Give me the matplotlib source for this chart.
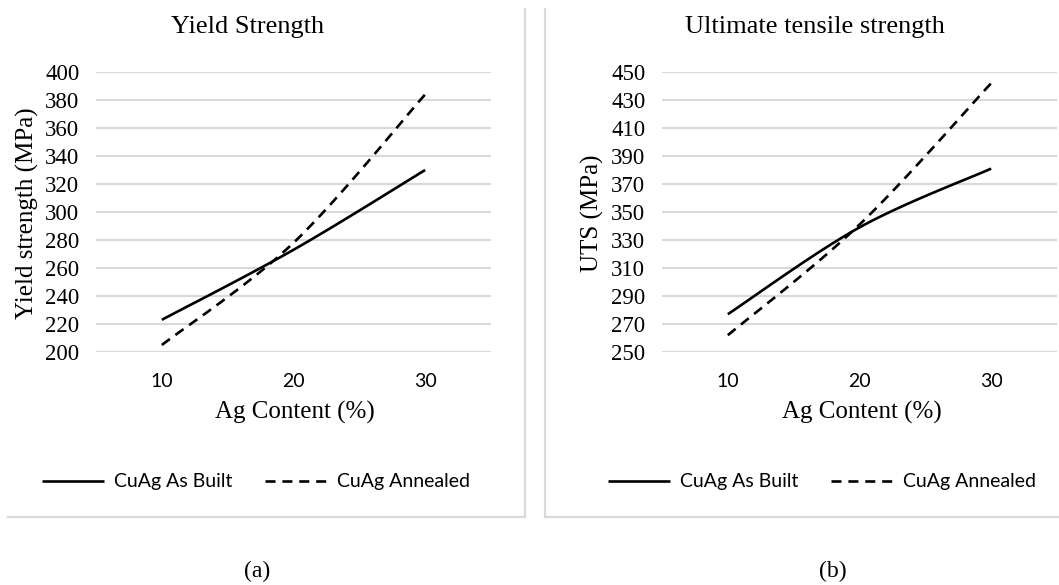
import numpy as np
import matplotlib
matplotlib.use("Agg")
import matplotlib.pyplot as plt
from matplotlib.lines import Line2D

# Ag content categories and measured strengths (MPa)
ag_content = ["10", "20", "30"]
ys_as_built = [223, 273, 330]
ys_annealed = [205, 278, 384]
uts_as_built = [277, 339, 381]
uts_annealed = [262, 341, 442]

W, H = 1059, 585
SERIF = "Liberation Serif"
SANS = "Lato"
GRID = "#d9d9d9"


def smooth(y, n=60):
    # spreadsheet-style smoothed line: cubic Bezier through the points
    y = np.asarray(y, dtype=float)
    x = np.arange(len(y), dtype=float)
    pts = np.column_stack([x, y])
    ext = np.vstack([pts[0], pts, pts[-1]])
    t = np.linspace(0, 1, n)[:, None]
    out = []
    for i in range(len(pts) - 1):
        p0, p3 = pts[i], pts[i + 1]
        c1 = p0 + (ext[i + 2] - ext[i]) / 6.0
        c2 = p3 - (ext[i + 3] - ext[i + 1]) / 6.0
        seg = ((1 - t) ** 3) * p0 + 3 * ((1 - t) ** 2) * t * c1 + 3 * (1 - t) * t ** 2 * c2 + t ** 3 * p3
        out.append(seg if i == 0 else seg[1:])
    out = np.vstack(out)
    return out[:, 0], out[:, 1]


def fx(px):
    return px / W


def fy(py):
    return 1 - py / H


fig = plt.figure(figsize=(W / 100, H / 100), dpi=100)

panels = [
    dict(left=96, title="Yield Strength", title_x=248, ylabel="Yield strength (MPa)", ylab_x=27,
         ylim=(200, 400), step=20, series=(ys_as_built, ys_annealed), xlab_x=295,
         leg_x=256, tag="(a)", tag_x=257),
    dict(left=662, title="Ultimate tensile strength", title_x=815, ylabel="UTS (MPa)", ylab_x=592,
         ylim=(250, 450), step=20, series=(uts_as_built, uts_annealed), xlab_x=862,
         leg_x=822, tag="(b)", tag_x=833),
]

top, bottom = 72, 352
for p in panels:
    ax = fig.add_axes([fx(p["left"]), fy(bottom), fx(395), (bottom - top) / H])
    built, annealed = p["series"]
    xs, ys = smooth(built)
    ax.plot(xs, ys, color="black", lw=1.9, solid_capstyle="butt", label="CuAg As Built")
    xs, ys = smooth(annealed)
    ax.plot(xs, ys, color="black", lw=1.9, dashes=(3.8, 2.6), label="CuAg Annealed")

    ax.set_xlim(-0.5, 2.5)
    ax.set_ylim(*p["ylim"])
    ax.set_xticks(range(len(ag_content)))
    ax.set_xticklabels(ag_content, fontfamily=SANS, fontsize=14)
    ax.set_yticks(np.arange(p["ylim"][0], p["ylim"][1] + 1, p["step"]))
    for lab in ax.get_yticklabels():
        lab.set_fontfamily(SERIF)
        lab.set_fontsize(16.5)
    ax.tick_params(axis="y", length=0, pad=12)
    ax.tick_params(axis="x", length=0, pad=15)
    ax.yaxis.grid(True, color=GRID, lw=1.5)
    ax.set_axisbelow(True)
    for s in ax.spines.values():
        s.set_visible(False)

    fig.text(fx(p["title_x"]), fy(27), p["title"], ha="center", va="center",
             fontfamily=SERIF, fontsize=19)
    fig.text(fx(p["ylab_x"]), fy(213), p["ylabel"], ha="center", va="center",
             rotation=90, fontfamily=SERIF, fontsize=18)
    fig.text(fx(p["xlab_x"]), fy(412), "Ag Content (%)", ha="center", va="center",
             fontfamily=SERIF, fontsize=18)
    fig.text(fx(p["tag_x"]), fy(571), p["tag"], ha="center", va="center",
             fontfamily=SERIF, fontsize=17)

    ax.legend(loc="center", bbox_to_anchor=(fx(p["leg_x"]), fy(482)),
              bbox_transform=fig.transFigure, ncol=2, frameon=False,
              prop=dict(family=SANS, size=14), handlelength=3.2,
              handletextpad=0.5, columnspacing=1.7)

# panel frames
frame = dict(color=GRID, lw=1.6, transform=fig.transFigure)
fig.add_artist(Line2D([fx(525), fx(525)], [fy(9), fy(517)], **frame))
fig.add_artist(Line2D([fx(8), fx(525)], [fy(517), fy(517)], **frame))
fig.add_artist(Line2D([fx(545), fx(545)], [fy(9), fy(517)], **frame))
fig.add_artist(Line2D([fx(545), fx(1059)], [fy(517), fy(517)], **frame))

fig.savefig("out.png", dpi=100, facecolor="white")
